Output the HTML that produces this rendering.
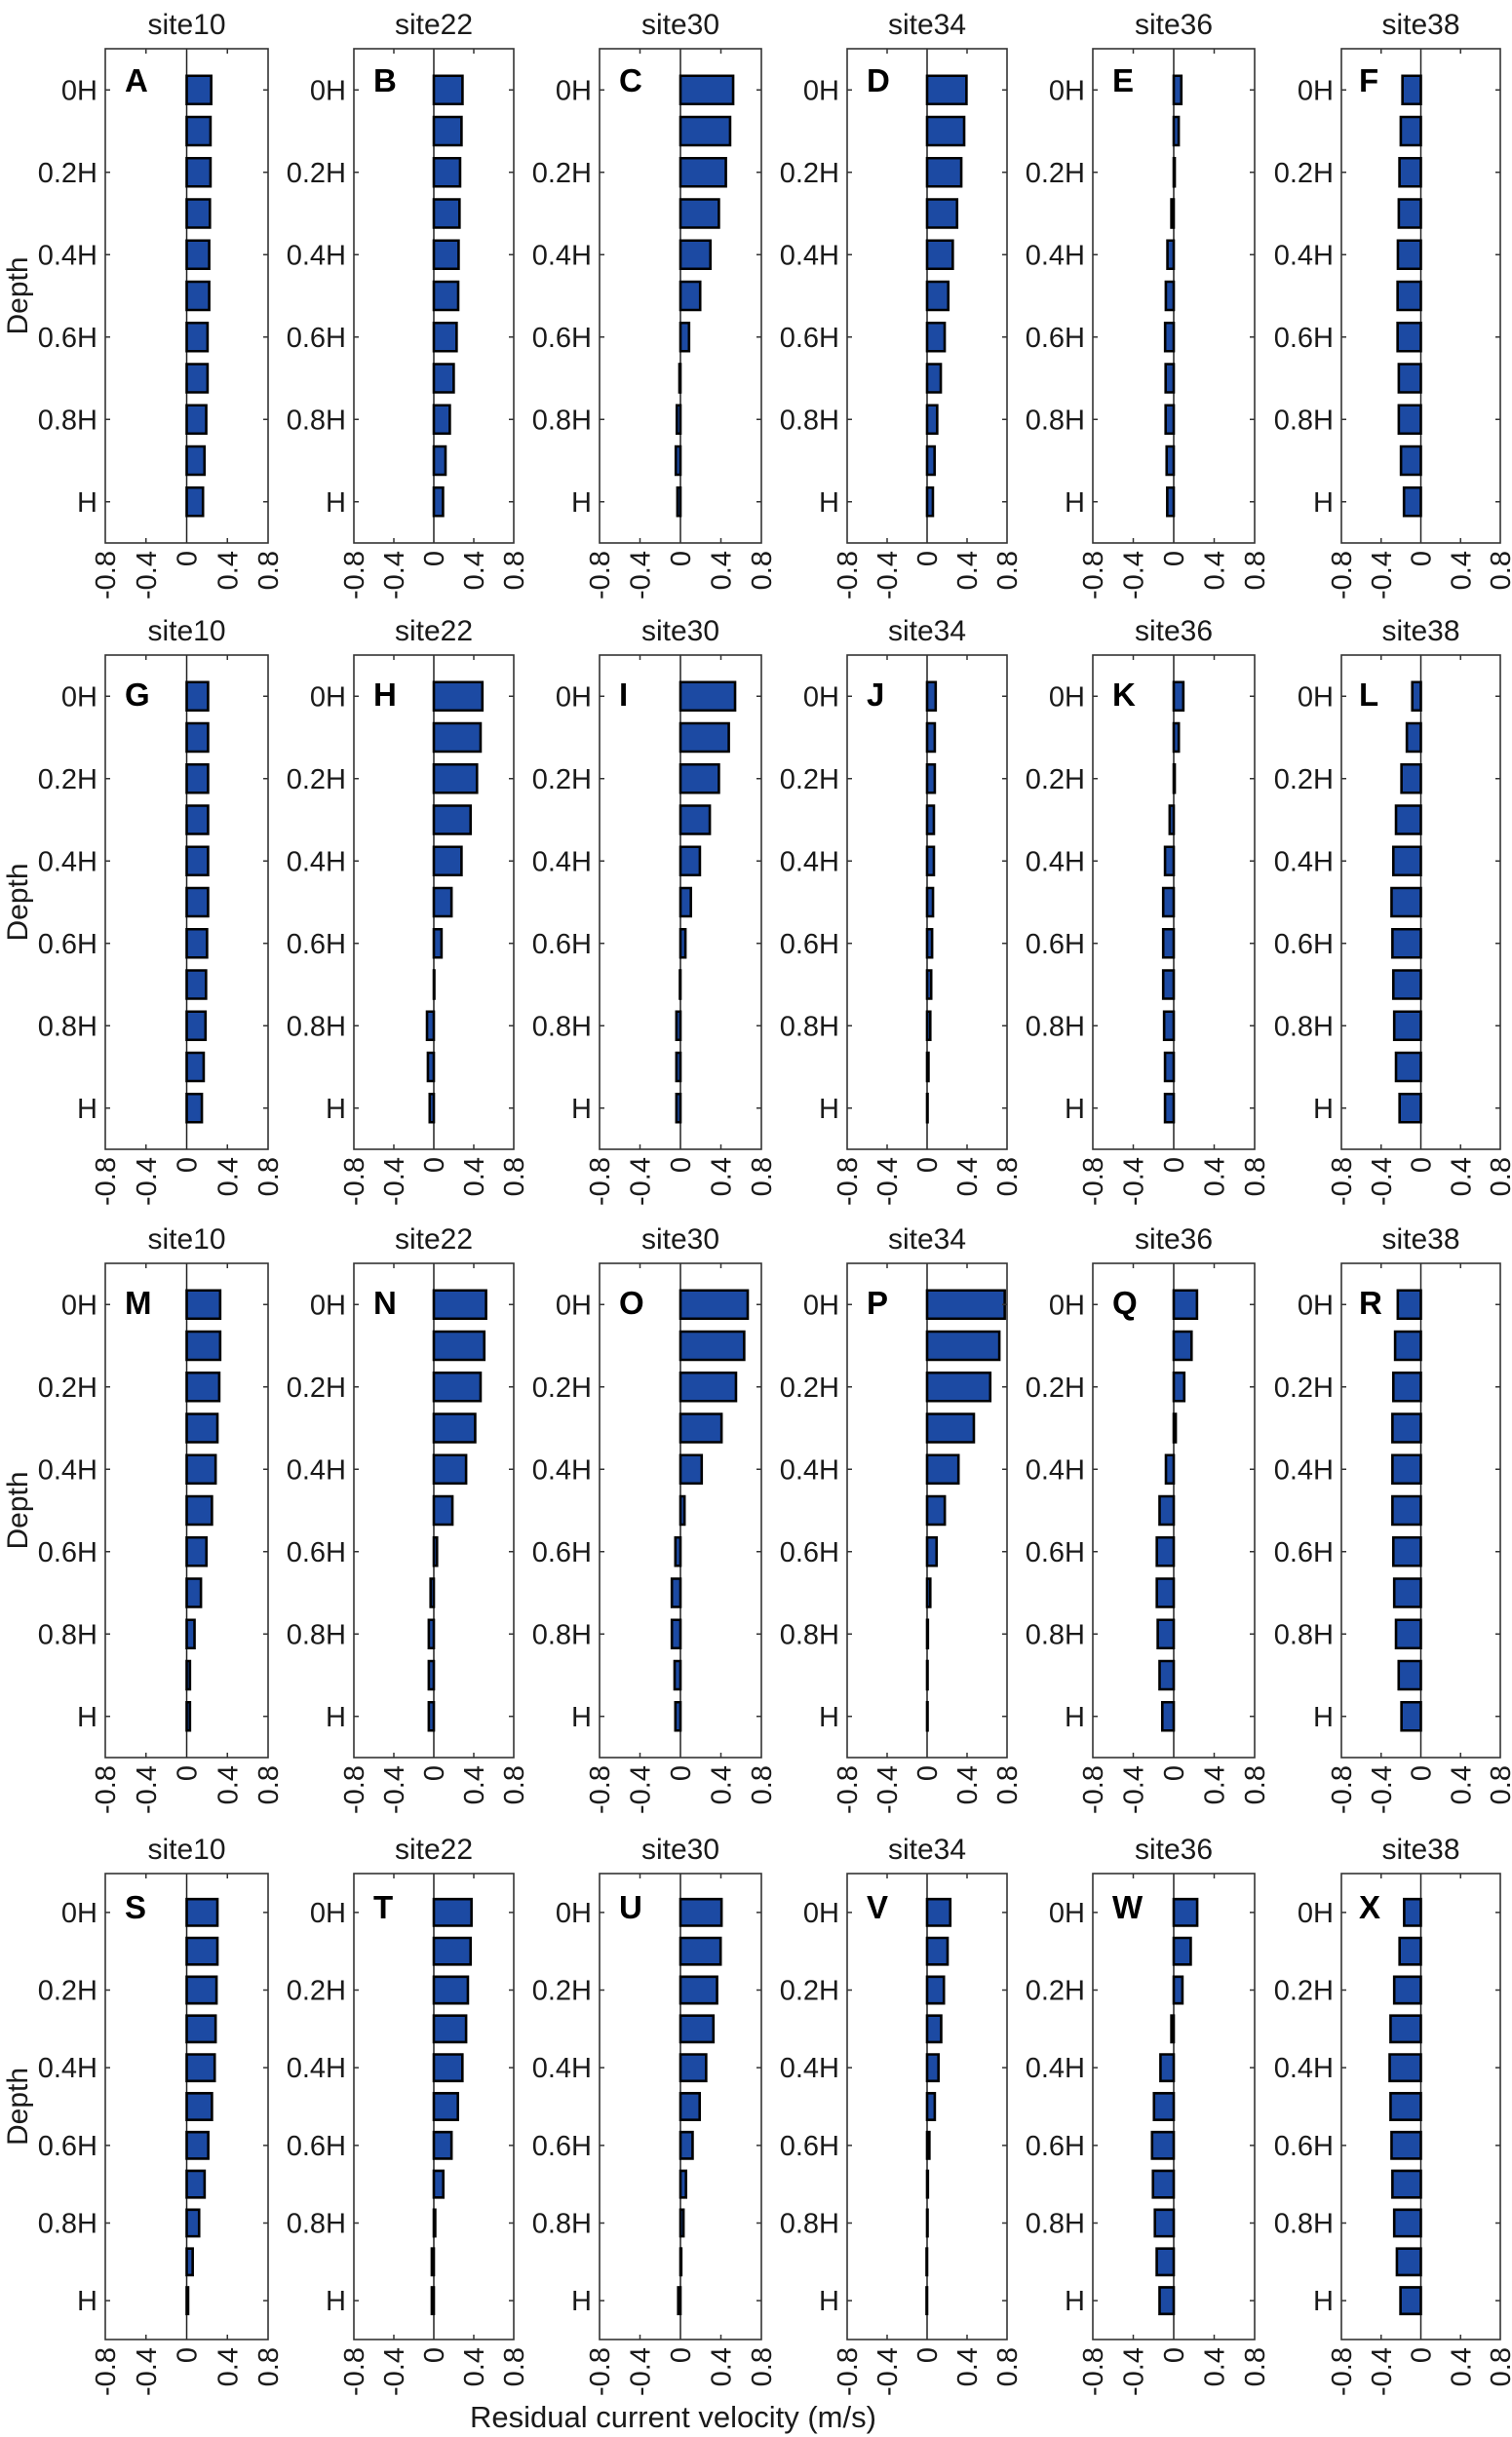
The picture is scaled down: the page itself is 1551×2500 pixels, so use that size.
<!DOCTYPE html>
<html><head><meta charset="utf-8"><style>
html,body{margin:0;padding:0;background:#fff}
svg{display:block}
text{font-family:"Liberation Sans",Arial,sans-serif;fill:#1a1a1a}
.t{font-size:30px;text-anchor:middle}
.yl text{font-size:29px;text-anchor:end}
.xl{font-size:29px;text-anchor:end}
.lt{font-size:33px;font-weight:bold;fill:#000}
.fr{fill:none;stroke:#333;stroke-width:1.6}
.z{stroke:#222;stroke-width:1.5}
.tk{stroke:#333;stroke-width:1.5;fill:none}
.b rect{fill:#1c4aa3;stroke:#000;stroke-width:2.6px;vector-effect:non-scaling-stroke}
</style></head><body>
<svg width="1551" height="2500" viewBox="0 0 1551 2500" xmlns="http://www.w3.org/2000/svg">
<rect width="1551" height="2500" fill="#fff"/>

<!-- Depth labels -->
<text class="t" transform="translate(28,303.5) rotate(-90)">Depth</text>
<text class="t" transform="translate(28,925.5) rotate(-90)">Depth</text>
<text class="t" transform="translate(28,1549.5) rotate(-90)">Depth</text>
<text class="t" transform="translate(28,2161) rotate(-90)">Depth</text>
<text x="482" y="2490" style="font-size:31px">Residual current velocity (m/s)</text>

<!-- ================= ROW 1 ================= -->
<!-- A -->
<g transform="translate(108,50)">
<text class="t" x="83.5" y="-15">site10</text>
<line class="z" x1="83.5" y1="0" x2="83.5" y2="507"/>
<g class="b" transform="translate(83.5,0) scale(104.4,42.25)">
<rect x="0" y=".657" width=".241" height=".686"/><rect x="0" y="1.657" width=".234" height=".686"/><rect x="0" y="2.657" width=".234" height=".686"/><rect x="0" y="3.657" width=".228" height=".686"/><rect x="0" y="4.657" width=".221" height=".686"/><rect x="0" y="5.657" width=".221" height=".686"/><rect x="0" y="6.657" width=".205" height=".686"/><rect x="0" y="7.657" width=".205" height=".686"/><rect x="0" y="8.657" width=".192" height=".686"/><rect x="0" y="9.657" width=".175" height=".686"/><rect x="0" y="10.657" width=".160" height=".686"/>
</g>
<rect class="fr" width="167" height="507"/>
<path class="tk" d="M41.75 0v5M125.25 0v5M41.75 507v-5M125.25 507v-5M0 42.25h5M0 126.75h5M0 211.25h5M0 295.75h5M0 380.25h5M0 464.75h5M167 42.25h-5M167 126.75h-5M167 211.25h-5M167 295.75h-5M167 380.25h-5M167 464.75h-5"/>
<g class="yl"><text x="-8" y="52.25">0H</text><text x="-8" y="136.75">0.2H</text><text x="-8" y="221.25">0.4H</text><text x="-8" y="305.75">0.6H</text><text x="-8" y="390.25">0.8H</text><text x="-8" y="474.75">H</text></g>
<text class="xl" transform="translate(10,515) rotate(-90)">-0.8</text><text class="xl" transform="translate(51.75,515) rotate(-90)">-0.4</text><text class="xl" transform="translate(93.5,515) rotate(-90)">0</text><text class="xl" transform="translate(135.25,515) rotate(-90)">0.4</text><text class="xl" transform="translate(177,515) rotate(-90)">0.8</text>
<text class="lt" x="20" y="44">A</text>
</g>

<!-- B -->
<g transform="translate(363,50)">
<text class="t" x="82" y="-15">site22</text>
<line class="z" x1="82" y1="0" x2="82" y2="507"/>
<g class="b" transform="translate(82,0) scale(102.5,42.25)">
<rect x="0" y=".657" width=".287" height=".686"/><rect x="0" y="1.657" width=".277" height=".686"/><rect x="0" y="2.657" width=".263" height=".686"/><rect x="0" y="3.657" width=".257" height=".686"/><rect x="0" y="4.657" width=".248" height=".686"/><rect x="0" y="5.657" width=".244" height=".686"/><rect x="0" y="6.657" width=".228" height=".686"/><rect x="0" y="7.657" width=".199" height=".686"/><rect x="0" y="8.657" width=".160" height=".686"/><rect x="0" y="9.657" width=".117" height=".686"/><rect x="0" y="10.657" width=".092" height=".686"/>
</g>
<rect class="fr" width="164" height="507"/>
<path class="tk" d="M41 0v5M123 0v5M41 507v-5M123 507v-5M0 42.25h5M0 126.75h5M0 211.25h5M0 295.75h5M0 380.25h5M0 464.75h5M164 42.25h-5M164 126.75h-5M164 211.25h-5M164 295.75h-5M164 380.25h-5M164 464.75h-5"/>
<g class="yl"><text x="-8" y="52.25">0H</text><text x="-8" y="136.75">0.2H</text><text x="-8" y="221.25">0.4H</text><text x="-8" y="305.75">0.6H</text><text x="-8" y="390.25">0.8H</text><text x="-8" y="474.75">H</text></g>
<text class="xl" transform="translate(10,515) rotate(-90)">-0.8</text><text class="xl" transform="translate(51,515) rotate(-90)">-0.4</text><text class="xl" transform="translate(92,515) rotate(-90)">0</text><text class="xl" transform="translate(133,515) rotate(-90)">0.4</text><text class="xl" transform="translate(174,515) rotate(-90)">0.8</text>
<text class="lt" x="20" y="44">B</text>
</g>

<!-- C -->
<g transform="translate(615,50)">
<text class="t" x="83" y="-15">site30</text>
<line class="z" x1="83" y1="0" x2="83" y2="507"/>
<g class="b" transform="translate(83,0) scale(103.75,42.25)">
<rect x="0" y=".657" width=".521" height=".686"/><rect x="0" y="1.657" width=".491" height=".686"/><rect x="0" y="2.657" width=".449" height=".686"/><rect x="0" y="3.657" width=".380" height=".686"/><rect x="0" y="4.657" width=".296" height=".686"/><rect x="0" y="5.657" width=".195" height=".686"/><rect x="0" y="6.657" width=".085" height=".686"/><rect x="-.01" y="7.657" width=".01" height=".686"/><rect x="-.036" y="8.657" width=".036" height=".686"/><rect x="-.046" y="9.657" width=".046" height=".686"/><rect x="-.03" y="10.657" width=".03" height=".686"/>
</g>
<rect class="fr" width="166" height="507"/>
<path class="tk" d="M41.5 0v5M124.5 0v5M41.5 507v-5M124.5 507v-5M0 42.25h5M0 126.75h5M0 211.25h5M0 295.75h5M0 380.25h5M0 464.75h5M166 42.25h-5M166 126.75h-5M166 211.25h-5M166 295.75h-5M166 380.25h-5M166 464.75h-5"/>
<g class="yl"><text x="-8" y="52.25">0H</text><text x="-8" y="136.75">0.2H</text><text x="-8" y="221.25">0.4H</text><text x="-8" y="305.75">0.6H</text><text x="-8" y="390.25">0.8H</text><text x="-8" y="474.75">H</text></g>
<text class="xl" transform="translate(10,515) rotate(-90)">-0.8</text><text class="xl" transform="translate(51.5,515) rotate(-90)">-0.4</text><text class="xl" transform="translate(93,515) rotate(-90)">0</text><text class="xl" transform="translate(134.5,515) rotate(-90)">0.4</text><text class="xl" transform="translate(176,515) rotate(-90)">0.8</text>
<text class="lt" x="20" y="44">C</text>
</g>

<!-- D -->
<g transform="translate(869,50)">
<text class="t" x="82" y="-15">site34</text>
<line class="z" x1="82" y1="0" x2="82" y2="507"/>
<g class="b" transform="translate(82,0) scale(102.5,42.25)">
<rect x="0" y=".657" width=".394" height=".686"/><rect x="0" y="1.657" width=".371" height=".686"/><rect x="0" y="2.657" width=".342" height=".686"/><rect x="0" y="3.657" width=".300" height=".686"/><rect x="0" y="4.657" width=".257" height=".686"/><rect x="0" y="5.657" width=".212" height=".686"/><rect x="0" y="6.657" width=".176" height=".686"/><rect x="0" y="7.657" width=".137" height=".686"/><rect x="0" y="8.657" width=".101" height=".686"/><rect x="0" y="9.657" width=".075" height=".686"/><rect x="0" y="10.657" width=".058" height=".686"/>
</g>
<rect class="fr" width="164" height="507"/>
<path class="tk" d="M41 0v5M123 0v5M41 507v-5M123 507v-5M0 42.25h5M0 126.75h5M0 211.25h5M0 295.75h5M0 380.25h5M0 464.75h5M164 42.25h-5M164 126.75h-5M164 211.25h-5M164 295.75h-5M164 380.25h-5M164 464.75h-5"/>
<g class="yl"><text x="-8" y="52.25">0H</text><text x="-8" y="136.75">0.2H</text><text x="-8" y="221.25">0.4H</text><text x="-8" y="305.75">0.6H</text><text x="-8" y="390.25">0.8H</text><text x="-8" y="474.75">H</text></g>
<text class="xl" transform="translate(10,515) rotate(-90)">-0.8</text><text class="xl" transform="translate(51,515) rotate(-90)">-0.4</text><text class="xl" transform="translate(92,515) rotate(-90)">0</text><text class="xl" transform="translate(133,515) rotate(-90)">0.4</text><text class="xl" transform="translate(174,515) rotate(-90)">0.8</text>
<text class="lt" x="20" y="44">D</text>
</g>

<!-- E -->
<g transform="translate(1121,50)">
<text class="t" x="83" y="-15">site36</text>
<line class="z" x1="83" y1="0" x2="83" y2="507"/>
<g class="b" transform="translate(83,0) scale(103.75,42.25)">
<rect x="0" y=".657" width=".075" height=".686"/><rect x="0" y="1.657" width=".049" height=".686"/><rect x="0" y="2.657" width=".01" height=".686"/><rect x="-.023" y="3.657" width=".023" height=".686"/><rect x="-.062" y="4.657" width=".062" height=".686"/><rect x="-.078" y="5.657" width=".078" height=".686"/><rect x="-.085" y="6.657" width=".085" height=".686"/><rect x="-.08" y="7.657" width=".08" height=".686"/><rect x="-.08" y="8.657" width=".08" height=".686"/><rect x="-.07" y="9.657" width=".07" height=".686"/><rect x="-.064" y="10.657" width=".064" height=".686"/>
</g>
<rect class="fr" width="166" height="507"/>
<path class="tk" d="M41.5 0v5M124.5 0v5M41.5 507v-5M124.5 507v-5M0 42.25h5M0 126.75h5M0 211.25h5M0 295.75h5M0 380.25h5M0 464.75h5M166 42.25h-5M166 126.75h-5M166 211.25h-5M166 295.75h-5M166 380.25h-5M166 464.75h-5"/>
<g class="yl"><text x="-8" y="52.25">0H</text><text x="-8" y="136.75">0.2H</text><text x="-8" y="221.25">0.4H</text><text x="-8" y="305.75">0.6H</text><text x="-8" y="390.25">0.8H</text><text x="-8" y="474.75">H</text></g>
<text class="xl" transform="translate(10,515) rotate(-90)">-0.8</text><text class="xl" transform="translate(51.5,515) rotate(-90)">-0.4</text><text class="xl" transform="translate(93,515) rotate(-90)">0</text><text class="xl" transform="translate(134.5,515) rotate(-90)">0.4</text><text class="xl" transform="translate(176,515) rotate(-90)">0.8</text>
<text class="lt" x="20" y="44">E</text>
</g>

<!-- F -->
<g transform="translate(1376,50)">
<text class="t" x="81.5" y="-15">site38</text>
<line class="z" x1="81.5" y1="0" x2="81.5" y2="507"/>
<g class="b" transform="translate(81.5,0) scale(101.9,42.25)">
<rect x="-.185" y=".657" width=".185" height=".686"/><rect x="-.202" y="1.657" width=".202" height=".686"/><rect x="-.215" y="2.657" width=".215" height=".686"/><rect x="-.222" y="3.657" width=".222" height=".686"/><rect x="-.231" y="4.657" width=".231" height=".686"/><rect x="-.234" y="5.657" width=".234" height=".686"/><rect x="-.234" y="6.657" width=".234" height=".686"/><rect x="-.222" y="7.657" width=".222" height=".686"/><rect x="-.222" y="8.657" width=".222" height=".686"/><rect x="-.2" y="9.657" width=".2" height=".686"/><rect x="-.17" y="10.657" width=".17" height=".686"/>
</g>
<rect class="fr" width="163" height="507"/>
<path class="tk" d="M40.75 0v5M122.25 0v5M40.75 507v-5M122.25 507v-5M0 42.25h5M0 126.75h5M0 211.25h5M0 295.75h5M0 380.25h5M0 464.75h5M163 42.25h-5M163 126.75h-5M163 211.25h-5M163 295.75h-5M163 380.25h-5M163 464.75h-5"/>
<g class="yl"><text x="-8" y="52.25">0H</text><text x="-8" y="136.75">0.2H</text><text x="-8" y="221.25">0.4H</text><text x="-8" y="305.75">0.6H</text><text x="-8" y="390.25">0.8H</text><text x="-8" y="474.75">H</text></g>
<text class="xl" transform="translate(10,515) rotate(-90)">-0.8</text><text class="xl" transform="translate(50.75,515) rotate(-90)">-0.4</text><text class="xl" transform="translate(91.5,515) rotate(-90)">0</text><text class="xl" transform="translate(132.25,515) rotate(-90)">0.4</text><text class="xl" transform="translate(173,515) rotate(-90)">0.8</text>
<text class="lt" x="18" y="44">F</text>
</g>

<!-- ================= ROW 2 ================= -->
<!-- G -->
<g transform="translate(108,672)">
<text class="t" x="83.5" y="-15">site10</text>
<line class="z" x1="83.5" y1="0" x2="83.5" y2="507"/>
<g class="b" transform="translate(83.5,0) scale(104.4,42.25)">
<rect x="0" y=".657" width=".21" height=".686"/><rect x="0" y="1.657" width=".21" height=".686"/><rect x="0" y="2.657" width=".21" height=".686"/><rect x="0" y="3.657" width=".21" height=".686"/><rect x="0" y="4.657" width=".21" height=".686"/><rect x="0" y="5.657" width=".21" height=".686"/><rect x="0" y="6.657" width=".20" height=".686"/><rect x="0" y="7.657" width=".19" height=".686"/><rect x="0" y="8.657" width=".185" height=".686"/><rect x="0" y="9.657" width=".167" height=".686"/><rect x="0" y="10.657" width=".149" height=".686"/>
</g>
<rect class="fr" width="167" height="507"/>
<path class="tk" d="M41.75 0v5M125.25 0v5M41.75 507v-5M125.25 507v-5M0 42.25h5M0 126.75h5M0 211.25h5M0 295.75h5M0 380.25h5M0 464.75h5M167 42.25h-5M167 126.75h-5M167 211.25h-5M167 295.75h-5M167 380.25h-5M167 464.75h-5"/>
<g class="yl"><text x="-8" y="52.25">0H</text><text x="-8" y="136.75">0.2H</text><text x="-8" y="221.25">0.4H</text><text x="-8" y="305.75">0.6H</text><text x="-8" y="390.25">0.8H</text><text x="-8" y="474.75">H</text></g>
<text class="xl" transform="translate(10,515) rotate(-90)">-0.8</text><text class="xl" transform="translate(51.75,515) rotate(-90)">-0.4</text><text class="xl" transform="translate(93.5,515) rotate(-90)">0</text><text class="xl" transform="translate(135.25,515) rotate(-90)">0.4</text><text class="xl" transform="translate(177,515) rotate(-90)">0.8</text>
<text class="lt" x="20" y="52">G</text>
</g>

<!-- H -->
<g transform="translate(363,672)">
<text class="t" x="82" y="-15">site22</text>
<line class="z" x1="82" y1="0" x2="82" y2="507"/>
<g class="b" transform="translate(82,0) scale(102.5,42.25)">
<rect x="0" y=".657" width=".486" height=".686"/><rect x="0" y="1.657" width=".468" height=".686"/><rect x="0" y="2.657" width=".432" height=".686"/><rect x="0" y="3.657" width=".368" height=".686"/><rect x="0" y="4.657" width=".277" height=".686"/><rect x="0" y="5.657" width=".177" height=".686"/><rect x="0" y="6.657" width=".077" height=".686"/><rect x="0" y="7.657" width=".005" height=".686"/><rect x="-.068" y="8.657" width=".068" height=".686"/><rect x="-.059" y="9.657" width=".059" height=".686"/><rect x="-.041" y="10.657" width=".041" height=".686"/>
</g>
<rect class="fr" width="164" height="507"/>
<path class="tk" d="M41 0v5M123 0v5M41 507v-5M123 507v-5M0 42.25h5M0 126.75h5M0 211.25h5M0 295.75h5M0 380.25h5M0 464.75h5M164 42.25h-5M164 126.75h-5M164 211.25h-5M164 295.75h-5M164 380.25h-5M164 464.75h-5"/>
<g class="yl"><text x="-8" y="52.25">0H</text><text x="-8" y="136.75">0.2H</text><text x="-8" y="221.25">0.4H</text><text x="-8" y="305.75">0.6H</text><text x="-8" y="390.25">0.8H</text><text x="-8" y="474.75">H</text></g>
<text class="xl" transform="translate(10,515) rotate(-90)">-0.8</text><text class="xl" transform="translate(51,515) rotate(-90)">-0.4</text><text class="xl" transform="translate(92,515) rotate(-90)">0</text><text class="xl" transform="translate(133,515) rotate(-90)">0.4</text><text class="xl" transform="translate(174,515) rotate(-90)">0.8</text>
<text class="lt" x="20" y="52">H</text>
</g>

<!-- I -->
<g transform="translate(615,672)">
<text class="t" x="83" y="-15">site30</text>
<line class="z" x1="83" y1="0" x2="83" y2="507"/>
<g class="b" transform="translate(83,0) scale(103.75,42.25)">
<rect x="0" y=".657" width=".54" height=".686"/><rect x="0" y="1.657" width=".478" height=".686"/><rect x="0" y="2.657" width=".38" height=".686"/><rect x="0" y="3.657" width=".29" height=".686"/><rect x="0" y="4.657" width=".192" height=".686"/><rect x="0" y="5.657" width=".103" height=".686"/><rect x="0" y="6.657" width=".049" height=".686"/><rect x="-.005" y="7.657" width=".005" height=".686"/><rect x="-.04" y="8.657" width=".04" height=".686"/><rect x="-.04" y="9.657" width=".04" height=".686"/><rect x="-.04" y="10.657" width=".04" height=".686"/>
</g>
<rect class="fr" width="166" height="507"/>
<path class="tk" d="M41.5 0v5M124.5 0v5M41.5 507v-5M124.5 507v-5M0 42.25h5M0 126.75h5M0 211.25h5M0 295.75h5M0 380.25h5M0 464.75h5M166 42.25h-5M166 126.75h-5M166 211.25h-5M166 295.75h-5M166 380.25h-5M166 464.75h-5"/>
<g class="yl"><text x="-8" y="52.25">0H</text><text x="-8" y="136.75">0.2H</text><text x="-8" y="221.25">0.4H</text><text x="-8" y="305.75">0.6H</text><text x="-8" y="390.25">0.8H</text><text x="-8" y="474.75">H</text></g>
<text class="xl" transform="translate(10,515) rotate(-90)">-0.8</text><text class="xl" transform="translate(51.5,515) rotate(-90)">-0.4</text><text class="xl" transform="translate(93,515) rotate(-90)">0</text><text class="xl" transform="translate(134.5,515) rotate(-90)">0.4</text><text class="xl" transform="translate(176,515) rotate(-90)">0.8</text>
<text class="lt" x="20" y="52">I</text>
</g>

<!-- J -->
<g transform="translate(869,672)">
<text class="t" x="82" y="-15">site34</text>
<line class="z" x1="82" y1="0" x2="82" y2="507"/>
<g class="b" transform="translate(82,0) scale(102.5,42.25)">
<rect x="0" y=".657" width=".086" height=".686"/><rect x="0" y="1.657" width=".077" height=".686"/><rect x="0" y="2.657" width=".077" height=".686"/><rect x="0" y="3.657" width=".068" height=".686"/><rect x="0" y="4.657" width=".068" height=".686"/><rect x="0" y="5.657" width=".059" height=".686"/><rect x="0" y="6.657" width=".05" height=".686"/><rect x="0" y="7.657" width=".041" height=".686"/><rect x="0" y="8.657" width=".032" height=".686"/><rect x="0" y="9.657" width=".014" height=".686"/><rect x="0" y="10.657" width=".005" height=".686"/>
</g>
<rect class="fr" width="164" height="507"/>
<path class="tk" d="M41 0v5M123 0v5M41 507v-5M123 507v-5M0 42.25h5M0 126.75h5M0 211.25h5M0 295.75h5M0 380.25h5M0 464.75h5M164 42.25h-5M164 126.75h-5M164 211.25h-5M164 295.75h-5M164 380.25h-5M164 464.75h-5"/>
<g class="yl"><text x="-8" y="52.25">0H</text><text x="-8" y="136.75">0.2H</text><text x="-8" y="221.25">0.4H</text><text x="-8" y="305.75">0.6H</text><text x="-8" y="390.25">0.8H</text><text x="-8" y="474.75">H</text></g>
<text class="xl" transform="translate(10,515) rotate(-90)">-0.8</text><text class="xl" transform="translate(51,515) rotate(-90)">-0.4</text><text class="xl" transform="translate(92,515) rotate(-90)">0</text><text class="xl" transform="translate(133,515) rotate(-90)">0.4</text><text class="xl" transform="translate(174,515) rotate(-90)">0.8</text>
<text class="lt" x="20" y="52">J</text>
</g>

<!-- K -->
<g transform="translate(1121,672)">
<text class="t" x="83" y="-15">site36</text>
<line class="z" x1="83" y1="0" x2="83" y2="507"/>
<g class="b" transform="translate(83,0) scale(103.75,42.25)">
<rect x="0" y=".657" width=".095" height=".686"/><rect x="0" y="1.657" width=".05" height=".686"/><rect x="0" y="2.657" width=".01" height=".686"/><rect x="-.04" y="3.657" width=".04" height=".686"/><rect x="-.086" y="4.657" width=".086" height=".686"/><rect x="-.104" y="5.657" width=".104" height=".686"/><rect x="-.104" y="6.657" width=".104" height=".686"/><rect x="-.104" y="7.657" width=".104" height=".686"/><rect x="-.095" y="8.657" width=".095" height=".686"/><rect x="-.086" y="9.657" width=".086" height=".686"/><rect x="-.086" y="10.657" width=".086" height=".686"/>
</g>
<rect class="fr" width="166" height="507"/>
<path class="tk" d="M41.5 0v5M124.5 0v5M41.5 507v-5M124.5 507v-5M0 42.25h5M0 126.75h5M0 211.25h5M0 295.75h5M0 380.25h5M0 464.75h5M166 42.25h-5M166 126.75h-5M166 211.25h-5M166 295.75h-5M166 380.25h-5M166 464.75h-5"/>
<g class="yl"><text x="-8" y="52.25">0H</text><text x="-8" y="136.75">0.2H</text><text x="-8" y="221.25">0.4H</text><text x="-8" y="305.75">0.6H</text><text x="-8" y="390.25">0.8H</text><text x="-8" y="474.75">H</text></g>
<text class="xl" transform="translate(10,515) rotate(-90)">-0.8</text><text class="xl" transform="translate(51.5,515) rotate(-90)">-0.4</text><text class="xl" transform="translate(93,515) rotate(-90)">0</text><text class="xl" transform="translate(134.5,515) rotate(-90)">0.4</text><text class="xl" transform="translate(176,515) rotate(-90)">0.8</text>
<text class="lt" x="20" y="52">K</text>
</g>

<!-- L -->
<g transform="translate(1376,672)">
<text class="t" x="81.5" y="-15">site38</text>
<line class="z" x1="81.5" y1="0" x2="81.5" y2="507"/>
<g class="b" transform="translate(81.5,0) scale(101.9,42.25)">
<rect x="-.086" y=".657" width=".086" height=".686"/><rect x="-.141" y="1.657" width=".141" height=".686"/><rect x="-.195" y="2.657" width=".195" height=".686"/><rect x="-.25" y="3.657" width=".25" height=".686"/><rect x="-.277" y="4.657" width=".277" height=".686"/><rect x="-.295" y="5.657" width=".295" height=".686"/><rect x="-.286" y="6.657" width=".286" height=".686"/><rect x="-.277" y="7.657" width=".277" height=".686"/><rect x="-.268" y="8.657" width=".268" height=".686"/><rect x="-.25" y="9.657" width=".25" height=".686"/><rect x="-.214" y="10.657" width=".214" height=".686"/>
</g>
<rect class="fr" width="163" height="507"/>
<path class="tk" d="M40.75 0v5M122.25 0v5M40.75 507v-5M122.25 507v-5M0 42.25h5M0 126.75h5M0 211.25h5M0 295.75h5M0 380.25h5M0 464.75h5M163 42.25h-5M163 126.75h-5M163 211.25h-5M163 295.75h-5M163 380.25h-5M163 464.75h-5"/>
<g class="yl"><text x="-8" y="52.25">0H</text><text x="-8" y="136.75">0.2H</text><text x="-8" y="221.25">0.4H</text><text x="-8" y="305.75">0.6H</text><text x="-8" y="390.25">0.8H</text><text x="-8" y="474.75">H</text></g>
<text class="xl" transform="translate(10,515) rotate(-90)">-0.8</text><text class="xl" transform="translate(50.75,515) rotate(-90)">-0.4</text><text class="xl" transform="translate(91.5,515) rotate(-90)">0</text><text class="xl" transform="translate(132.25,515) rotate(-90)">0.4</text><text class="xl" transform="translate(173,515) rotate(-90)">0.8</text>
<text class="lt" x="18" y="52">L</text>
</g>

<!-- ================= ROW 3 ================= -->
<!-- M -->
<g transform="translate(108,1296)">
<text class="t" x="83.5" y="-15">site10</text>
<line class="z" x1="83.5" y1="0" x2="83.5" y2="507"/>
<g class="b" transform="translate(83.5,0) scale(104.4,42.25)">
<rect x="0" y=".657" width=".329" height=".686"/><rect x="0" y="1.657" width=".329" height=".686"/><rect x="0" y="2.657" width=".32" height=".686"/><rect x="0" y="3.657" width=".302" height=".686"/><rect x="0" y="4.657" width=".284" height=".686"/><rect x="0" y="5.657" width=".248" height=".686"/><rect x="0" y="6.657" width=".194" height=".686"/><rect x="0" y="7.657" width=".14" height=".686"/><rect x="0" y="8.657" width=".077" height=".686"/><rect x="0" y="9.657" width=".032" height=".686"/><rect x="0" y="10.657" width=".032" height=".686"/>
</g>
<rect class="fr" width="167" height="507"/>
<path class="tk" d="M41.75 0v5M125.25 0v5M41.75 507v-5M125.25 507v-5M0 42.25h5M0 126.75h5M0 211.25h5M0 295.75h5M0 380.25h5M0 464.75h5M167 42.25h-5M167 126.75h-5M167 211.25h-5M167 295.75h-5M167 380.25h-5M167 464.75h-5"/>
<g class="yl"><text x="-8" y="52.25">0H</text><text x="-8" y="136.75">0.2H</text><text x="-8" y="221.25">0.4H</text><text x="-8" y="305.75">0.6H</text><text x="-8" y="390.25">0.8H</text><text x="-8" y="474.75">H</text></g>
<text class="xl" transform="translate(10,515) rotate(-90)">-0.8</text><text class="xl" transform="translate(51.75,515) rotate(-90)">-0.4</text><text class="xl" transform="translate(93.5,515) rotate(-90)">0</text><text class="xl" transform="translate(135.25,515) rotate(-90)">0.4</text><text class="xl" transform="translate(177,515) rotate(-90)">0.8</text>
<text class="lt" x="20" y="52">M</text>
</g>

<!-- N -->
<g transform="translate(363,1296)">
<text class="t" x="82" y="-15">site22</text>
<line class="z" x1="82" y1="0" x2="82" y2="507"/>
<g class="b" transform="translate(82,0) scale(102.5,42.25)">
<rect x="0" y=".657" width=".523" height=".686"/><rect x="0" y="1.657" width=".505" height=".686"/><rect x="0" y="2.657" width=".468" height=".686"/><rect x="0" y="3.657" width=".414" height=".686"/><rect x="0" y="4.657" width=".323" height=".686"/><rect x="0" y="5.657" width=".186" height=".686"/><rect x="0" y="6.657" width=".032" height=".686"/><rect x="-.032" y="7.657" width=".032" height=".686"/><rect x="-.05" y="8.657" width=".05" height=".686"/><rect x="-.05" y="9.657" width=".05" height=".686"/><rect x="-.05" y="10.657" width=".05" height=".686"/>
</g>
<rect class="fr" width="164" height="507"/>
<path class="tk" d="M41 0v5M123 0v5M41 507v-5M123 507v-5M0 42.25h5M0 126.75h5M0 211.25h5M0 295.75h5M0 380.25h5M0 464.75h5M164 42.25h-5M164 126.75h-5M164 211.25h-5M164 295.75h-5M164 380.25h-5M164 464.75h-5"/>
<g class="yl"><text x="-8" y="52.25">0H</text><text x="-8" y="136.75">0.2H</text><text x="-8" y="221.25">0.4H</text><text x="-8" y="305.75">0.6H</text><text x="-8" y="390.25">0.8H</text><text x="-8" y="474.75">H</text></g>
<text class="xl" transform="translate(10,515) rotate(-90)">-0.8</text><text class="xl" transform="translate(51,515) rotate(-90)">-0.4</text><text class="xl" transform="translate(92,515) rotate(-90)">0</text><text class="xl" transform="translate(133,515) rotate(-90)">0.4</text><text class="xl" transform="translate(174,515) rotate(-90)">0.8</text>
<text class="lt" x="20" y="52">N</text>
</g>

<!-- O -->
<g transform="translate(615,1296)">
<text class="t" x="83" y="-15">site30</text>
<line class="z" x1="83" y1="0" x2="83" y2="507"/>
<g class="b" transform="translate(83,0) scale(103.75,42.25)">
<rect x="0" y=".657" width=".665" height=".686"/><rect x="0" y="1.657" width=".63" height=".686"/><rect x="0" y="2.657" width=".549" height=".686"/><rect x="0" y="3.657" width=".406" height=".686"/><rect x="0" y="4.657" width=".21" height=".686"/><rect x="0" y="5.657" width=".04" height=".686"/><rect x="-.05" y="6.657" width=".05" height=".686"/><rect x="-.085" y="7.657" width=".085" height=".686"/><rect x="-.085" y="8.657" width=".085" height=".686"/><rect x="-.058" y="9.657" width=".058" height=".686"/><rect x="-.05" y="10.657" width=".05" height=".686"/>
</g>
<rect class="fr" width="166" height="507"/>
<path class="tk" d="M41.5 0v5M124.5 0v5M41.5 507v-5M124.5 507v-5M0 42.25h5M0 126.75h5M0 211.25h5M0 295.75h5M0 380.25h5M0 464.75h5M166 42.25h-5M166 126.75h-5M166 211.25h-5M166 295.75h-5M166 380.25h-5M166 464.75h-5"/>
<g class="yl"><text x="-8" y="52.25">0H</text><text x="-8" y="136.75">0.2H</text><text x="-8" y="221.25">0.4H</text><text x="-8" y="305.75">0.6H</text><text x="-8" y="390.25">0.8H</text><text x="-8" y="474.75">H</text></g>
<text class="xl" transform="translate(10,515) rotate(-90)">-0.8</text><text class="xl" transform="translate(51.5,515) rotate(-90)">-0.4</text><text class="xl" transform="translate(93,515) rotate(-90)">0</text><text class="xl" transform="translate(134.5,515) rotate(-90)">0.4</text><text class="xl" transform="translate(176,515) rotate(-90)">0.8</text>
<text class="lt" x="20" y="52">O</text>
</g>

<!-- P -->
<g transform="translate(869,1296)">
<text class="t" x="82" y="-15">site34</text>
<line class="z" x1="82" y1="0" x2="82" y2="507"/>
<g class="b" transform="translate(82,0) scale(102.5,42.25)">
<rect x="0" y=".657" width=".777" height=".686"/><rect x="0" y="1.657" width=".723" height=".686"/><rect x="0" y="2.657" width=".632" height=".686"/><rect x="0" y="3.657" width=".468" height=".686"/><rect x="0" y="4.657" width=".314" height=".686"/><rect x="0" y="5.657" width=".177" height=".686"/><rect x="0" y="6.657" width=".095" height=".686"/><rect x="0" y="7.657" width=".032" height=".686"/><rect x="0" y="8.657" width=".008" height=".686"/><rect x="0" y="9.657" width=".005" height=".686"/><rect x="0" y="10.657" width=".005" height=".686"/>
</g>
<rect class="fr" width="164" height="507"/>
<path class="tk" d="M41 0v5M123 0v5M41 507v-5M123 507v-5M0 42.25h5M0 126.75h5M0 211.25h5M0 295.75h5M0 380.25h5M0 464.75h5M164 42.25h-5M164 126.75h-5M164 211.25h-5M164 295.75h-5M164 380.25h-5M164 464.75h-5"/>
<g class="yl"><text x="-8" y="52.25">0H</text><text x="-8" y="136.75">0.2H</text><text x="-8" y="221.25">0.4H</text><text x="-8" y="305.75">0.6H</text><text x="-8" y="390.25">0.8H</text><text x="-8" y="474.75">H</text></g>
<text class="xl" transform="translate(10,515) rotate(-90)">-0.8</text><text class="xl" transform="translate(51,515) rotate(-90)">-0.4</text><text class="xl" transform="translate(92,515) rotate(-90)">0</text><text class="xl" transform="translate(133,515) rotate(-90)">0.4</text><text class="xl" transform="translate(174,515) rotate(-90)">0.8</text>
<text class="lt" x="20" y="52">P</text>
</g>

<!-- Q -->
<g transform="translate(1121,1296)">
<text class="t" x="83" y="-15">site36</text>
<line class="z" x1="83" y1="0" x2="83" y2="507"/>
<g class="b" transform="translate(83,0) scale(103.75,42.25)">
<rect x="0" y=".657" width=".23" height=".686"/><rect x="0" y="1.657" width=".176" height=".686"/><rect x="0" y="2.657" width=".104" height=".686"/><rect x="0" y="3.657" width=".02" height=".686"/><rect x="-.077" y="4.657" width=".077" height=".686"/><rect x="-.14" y="5.657" width=".14" height=".686"/><rect x="-.167" y="6.657" width=".167" height=".686"/><rect x="-.167" y="7.657" width=".167" height=".686"/><rect x="-.158" y="8.657" width=".158" height=".686"/><rect x="-.14" y="9.657" width=".14" height=".686"/><rect x="-.113" y="10.657" width=".113" height=".686"/>
</g>
<rect class="fr" width="166" height="507"/>
<path class="tk" d="M41.5 0v5M124.5 0v5M41.5 507v-5M124.5 507v-5M0 42.25h5M0 126.75h5M0 211.25h5M0 295.75h5M0 380.25h5M0 464.75h5M166 42.25h-5M166 126.75h-5M166 211.25h-5M166 295.75h-5M166 380.25h-5M166 464.75h-5"/>
<g class="yl"><text x="-8" y="52.25">0H</text><text x="-8" y="136.75">0.2H</text><text x="-8" y="221.25">0.4H</text><text x="-8" y="305.75">0.6H</text><text x="-8" y="390.25">0.8H</text><text x="-8" y="474.75">H</text></g>
<text class="xl" transform="translate(10,515) rotate(-90)">-0.8</text><text class="xl" transform="translate(51.5,515) rotate(-90)">-0.4</text><text class="xl" transform="translate(93,515) rotate(-90)">0</text><text class="xl" transform="translate(134.5,515) rotate(-90)">0.4</text><text class="xl" transform="translate(176,515) rotate(-90)">0.8</text>
<text class="lt" x="20" y="52">Q</text>
</g>

<!-- R -->
<g transform="translate(1376,1296)">
<text class="t" x="81.5" y="-15">site38</text>
<line class="z" x1="81.5" y1="0" x2="81.5" y2="507"/>
<g class="b" transform="translate(81.5,0) scale(101.9,42.25)">
<rect x="-.232" y=".657" width=".232" height=".686"/><rect x="-.259" y="1.657" width=".259" height=".686"/><rect x="-.277" y="2.657" width=".277" height=".686"/><rect x="-.286" y="3.657" width=".286" height=".686"/><rect x="-.286" y="4.657" width=".286" height=".686"/><rect x="-.286" y="5.657" width=".286" height=".686"/><rect x="-.277" y="6.657" width=".277" height=".686"/><rect x="-.268" y="7.657" width=".268" height=".686"/><rect x="-.25" y="8.657" width=".25" height=".686"/><rect x="-.223" y="9.657" width=".223" height=".686"/><rect x="-.195" y="10.657" width=".195" height=".686"/>
</g>
<rect class="fr" width="163" height="507"/>
<path class="tk" d="M40.75 0v5M122.25 0v5M40.75 507v-5M122.25 507v-5M0 42.25h5M0 126.75h5M0 211.25h5M0 295.75h5M0 380.25h5M0 464.75h5M163 42.25h-5M163 126.75h-5M163 211.25h-5M163 295.75h-5M163 380.25h-5M163 464.75h-5"/>
<g class="yl"><text x="-8" y="52.25">0H</text><text x="-8" y="136.75">0.2H</text><text x="-8" y="221.25">0.4H</text><text x="-8" y="305.75">0.6H</text><text x="-8" y="390.25">0.8H</text><text x="-8" y="474.75">H</text></g>
<text class="xl" transform="translate(10,515) rotate(-90)">-0.8</text><text class="xl" transform="translate(50.75,515) rotate(-90)">-0.4</text><text class="xl" transform="translate(91.5,515) rotate(-90)">0</text><text class="xl" transform="translate(132.25,515) rotate(-90)">0.4</text><text class="xl" transform="translate(173,515) rotate(-90)">0.8</text>
<text class="lt" x="18" y="52">R</text>
</g>

<!-- ================= ROW 4 ================= -->
<!-- S -->
<g transform="translate(108,1922)">
<text class="t" x="83.5" y="-15">site10</text>
<line class="z" x1="83.5" y1="0" x2="83.5" y2="478"/>
<g class="b" transform="translate(83.5,0) scale(104.4,39.83)">
<rect x="0" y=".657" width=".302" height=".686"/><rect x="0" y="1.657" width=".302" height=".686"/><rect x="0" y="2.657" width=".293" height=".686"/><rect x="0" y="3.657" width=".284" height=".686"/><rect x="0" y="4.657" width=".275" height=".686"/><rect x="0" y="5.657" width=".248" height=".686"/><rect x="0" y="6.657" width=".212" height=".686"/><rect x="0" y="7.657" width=".176" height=".686"/><rect x="0" y="8.657" width=".122" height=".686"/><rect x="0" y="9.657" width=".059" height=".686"/><rect x="0" y="10.657" width=".014" height=".686"/>
</g>
<rect class="fr" width="167" height="478"/>
<path class="tk" d="M41.75 0v5M125.25 0v5M41.75 478v-5M125.25 478v-5M0 39.83h5M0 119.5h5M0 199.17h5M0 278.83h5M0 358.5h5M0 438.17h5M167 39.83h-5M167 119.5h-5M167 199.17h-5M167 278.83h-5M167 358.5h-5M167 438.17h-5"/>
<g class="yl"><text x="-8" y="49.8">0H</text><text x="-8" y="129.5">0.2H</text><text x="-8" y="209.2">0.4H</text><text x="-8" y="288.8">0.6H</text><text x="-8" y="368.5">0.8H</text><text x="-8" y="448.2">H</text></g>
<text class="xl" transform="translate(10,486) rotate(-90)">-0.8</text><text class="xl" transform="translate(51.75,486) rotate(-90)">-0.4</text><text class="xl" transform="translate(93.5,486) rotate(-90)">0</text><text class="xl" transform="translate(135.25,486) rotate(-90)">0.4</text><text class="xl" transform="translate(177,486) rotate(-90)">0.8</text>
<text class="lt" x="20" y="46">S</text>
</g>

<!-- T -->
<g transform="translate(363,1922)">
<text class="t" x="82" y="-15">site22</text>
<line class="z" x1="82" y1="0" x2="82" y2="478"/>
<g class="b" transform="translate(82,0) scale(102.5,39.83)">
<rect x="0" y=".657" width=".377" height=".686"/><rect x="0" y="1.657" width=".368" height=".686"/><rect x="0" y="2.657" width=".341" height=".686"/><rect x="0" y="3.657" width=".323" height=".686"/><rect x="0" y="4.657" width=".286" height=".686"/><rect x="0" y="5.657" width=".241" height=".686"/><rect x="0" y="6.657" width=".177" height=".686"/><rect x="0" y="7.657" width=".095" height=".686"/><rect x="0" y="8.657" width=".014" height=".686"/><rect x="-.02" y="9.657" width=".02" height=".686"/><rect x="-.02" y="10.657" width=".02" height=".686"/>
</g>
<rect class="fr" width="164" height="478"/>
<path class="tk" d="M41 0v5M123 0v5M41 478v-5M123 478v-5M0 39.83h5M0 119.5h5M0 199.17h5M0 278.83h5M0 358.5h5M0 438.17h5M164 39.83h-5M164 119.5h-5M164 199.17h-5M164 278.83h-5M164 358.5h-5M164 438.17h-5"/>
<g class="yl"><text x="-8" y="49.8">0H</text><text x="-8" y="129.5">0.2H</text><text x="-8" y="209.2">0.4H</text><text x="-8" y="288.8">0.6H</text><text x="-8" y="368.5">0.8H</text><text x="-8" y="448.2">H</text></g>
<text class="xl" transform="translate(10,486) rotate(-90)">-0.8</text><text class="xl" transform="translate(51,486) rotate(-90)">-0.4</text><text class="xl" transform="translate(92,486) rotate(-90)">0</text><text class="xl" transform="translate(133,486) rotate(-90)">0.4</text><text class="xl" transform="translate(174,486) rotate(-90)">0.8</text>
<text class="lt" x="20" y="46">T</text>
</g>

<!-- U -->
<g transform="translate(615,1922)">
<text class="t" x="83" y="-15">site30</text>
<line class="z" x1="83" y1="0" x2="83" y2="478"/>
<g class="b" transform="translate(83,0) scale(103.75,39.83)">
<rect x="0" y=".657" width=".406" height=".686"/><rect x="0" y="1.657" width=".397" height=".686"/><rect x="0" y="2.657" width=".362" height=".686"/><rect x="0" y="3.657" width=".326" height=".686"/><rect x="0" y="4.657" width=".254" height=".686"/><rect x="0" y="5.657" width=".19" height=".686"/><rect x="0" y="6.657" width=".12" height=".686"/><rect x="0" y="7.657" width=".055" height=".686"/><rect x="0" y="8.657" width=".03" height=".686"/><rect x="0" y="9.657" width=".008" height=".686"/><rect x="-.022" y="10.657" width=".022" height=".686"/>
</g>
<rect class="fr" width="166" height="478"/>
<path class="tk" d="M41.5 0v5M124.5 0v5M41.5 478v-5M124.5 478v-5M0 39.83h5M0 119.5h5M0 199.17h5M0 278.83h5M0 358.5h5M0 438.17h5M166 39.83h-5M166 119.5h-5M166 199.17h-5M166 278.83h-5M166 358.5h-5M166 438.17h-5"/>
<g class="yl"><text x="-8" y="49.8">0H</text><text x="-8" y="129.5">0.2H</text><text x="-8" y="209.2">0.4H</text><text x="-8" y="288.8">0.6H</text><text x="-8" y="368.5">0.8H</text><text x="-8" y="448.2">H</text></g>
<text class="xl" transform="translate(10,486) rotate(-90)">-0.8</text><text class="xl" transform="translate(51.5,486) rotate(-90)">-0.4</text><text class="xl" transform="translate(93,486) rotate(-90)">0</text><text class="xl" transform="translate(134.5,486) rotate(-90)">0.4</text><text class="xl" transform="translate(176,486) rotate(-90)">0.8</text>
<text class="lt" x="20" y="46">U</text>
</g>

<!-- V -->
<g transform="translate(869,1922)">
<text class="t" x="82" y="-15">site34</text>
<line class="z" x1="82" y1="0" x2="82" y2="478"/>
<g class="b" transform="translate(82,0) scale(102.5,39.83)">
<rect x="0" y=".657" width=".232" height=".686"/><rect x="0" y="1.657" width=".205" height=".686"/><rect x="0" y="2.657" width=".168" height=".686"/><rect x="0" y="3.657" width=".141" height=".686"/><rect x="0" y="4.657" width=".114" height=".686"/><rect x="0" y="5.657" width=".077" height=".686"/><rect x="0" y="6.657" width=".023" height=".686"/><rect x="0" y="7.657" width=".008" height=".686"/><rect x="0" y="8.657" width=".005" height=".686"/><rect x="-.005" y="9.657" width=".005" height=".686"/><rect x="-.005" y="10.657" width=".005" height=".686"/>
</g>
<rect class="fr" width="164" height="478"/>
<path class="tk" d="M41 0v5M123 0v5M41 478v-5M123 478v-5M0 39.83h5M0 119.5h5M0 199.17h5M0 278.83h5M0 358.5h5M0 438.17h5M164 39.83h-5M164 119.5h-5M164 199.17h-5M164 278.83h-5M164 358.5h-5M164 438.17h-5"/>
<g class="yl"><text x="-8" y="49.8">0H</text><text x="-8" y="129.5">0.2H</text><text x="-8" y="209.2">0.4H</text><text x="-8" y="288.8">0.6H</text><text x="-8" y="368.5">0.8H</text><text x="-8" y="448.2">H</text></g>
<text class="xl" transform="translate(10,486) rotate(-90)">-0.8</text><text class="xl" transform="translate(51,486) rotate(-90)">-0.4</text><text class="xl" transform="translate(92,486) rotate(-90)">0</text><text class="xl" transform="translate(133,486) rotate(-90)">0.4</text><text class="xl" transform="translate(174,486) rotate(-90)">0.8</text>
<text class="lt" x="20" y="46">V</text>
</g>

<!-- W -->
<g transform="translate(1121,1922)">
<text class="t" x="83" y="-15">site36</text>
<line class="z" x1="83" y1="0" x2="83" y2="478"/>
<g class="b" transform="translate(83,0) scale(103.75,39.83)">
<rect x="0" y=".657" width=".232" height=".686"/><rect x="0" y="1.657" width=".168" height=".686"/><rect x="0" y="2.657" width=".086" height=".686"/><rect x="-.023" y="3.657" width=".023" height=".686"/><rect x="-.131" y="4.657" width=".131" height=".686"/><rect x="-.195" y="5.657" width=".195" height=".686"/><rect x="-.214" y="6.657" width=".214" height=".686"/><rect x="-.205" y="7.657" width=".205" height=".686"/><rect x="-.186" y="8.657" width=".186" height=".686"/><rect x="-.168" y="9.657" width=".168" height=".686"/><rect x="-.14" y="10.657" width=".14" height=".686"/>
</g>
<rect class="fr" width="166" height="478"/>
<path class="tk" d="M41.5 0v5M124.5 0v5M41.5 478v-5M124.5 478v-5M0 39.83h5M0 119.5h5M0 199.17h5M0 278.83h5M0 358.5h5M0 438.17h5M166 39.83h-5M166 119.5h-5M166 199.17h-5M166 278.83h-5M166 358.5h-5M166 438.17h-5"/>
<g class="yl"><text x="-8" y="49.8">0H</text><text x="-8" y="129.5">0.2H</text><text x="-8" y="209.2">0.4H</text><text x="-8" y="288.8">0.6H</text><text x="-8" y="368.5">0.8H</text><text x="-8" y="448.2">H</text></g>
<text class="xl" transform="translate(10,486) rotate(-90)">-0.8</text><text class="xl" transform="translate(51.5,486) rotate(-90)">-0.4</text><text class="xl" transform="translate(93,486) rotate(-90)">0</text><text class="xl" transform="translate(134.5,486) rotate(-90)">0.4</text><text class="xl" transform="translate(176,486) rotate(-90)">0.8</text>
<text class="lt" x="20" y="46">W</text>
</g>

<!-- X -->
<g transform="translate(1376,1922)">
<text class="t" x="81.5" y="-15">site38</text>
<line class="z" x1="81.5" y1="0" x2="81.5" y2="478"/>
<g class="b" transform="translate(81.5,0) scale(101.9,39.83)">
<rect x="-.168" y=".657" width=".168" height=".686"/><rect x="-.214" y="1.657" width=".214" height=".686"/><rect x="-.268" y="2.657" width=".268" height=".686"/><rect x="-.305" y="3.657" width=".305" height=".686"/><rect x="-.314" y="4.657" width=".314" height=".686"/><rect x="-.305" y="5.657" width=".305" height=".686"/><rect x="-.295" y="6.657" width=".295" height=".686"/><rect x="-.286" y="7.657" width=".286" height=".686"/><rect x="-.268" y="8.657" width=".268" height=".686"/><rect x="-.241" y="9.657" width=".241" height=".686"/><rect x="-.205" y="10.657" width=".205" height=".686"/>
</g>
<rect class="fr" width="163" height="478"/>
<path class="tk" d="M40.75 0v5M122.25 0v5M40.75 478v-5M122.25 478v-5M0 39.83h5M0 119.5h5M0 199.17h5M0 278.83h5M0 358.5h5M0 438.17h5M163 39.83h-5M163 119.5h-5M163 199.17h-5M163 278.83h-5M163 358.5h-5M163 438.17h-5"/>
<g class="yl"><text x="-8" y="49.8">0H</text><text x="-8" y="129.5">0.2H</text><text x="-8" y="209.2">0.4H</text><text x="-8" y="288.8">0.6H</text><text x="-8" y="368.5">0.8H</text><text x="-8" y="448.2">H</text></g>
<text class="xl" transform="translate(10,486) rotate(-90)">-0.8</text><text class="xl" transform="translate(50.75,486) rotate(-90)">-0.4</text><text class="xl" transform="translate(91.5,486) rotate(-90)">0</text><text class="xl" transform="translate(132.25,486) rotate(-90)">0.4</text><text class="xl" transform="translate(173,486) rotate(-90)">0.8</text>
<text class="lt" x="18" y="46">X</text>
</g>

</svg>
</body></html>
